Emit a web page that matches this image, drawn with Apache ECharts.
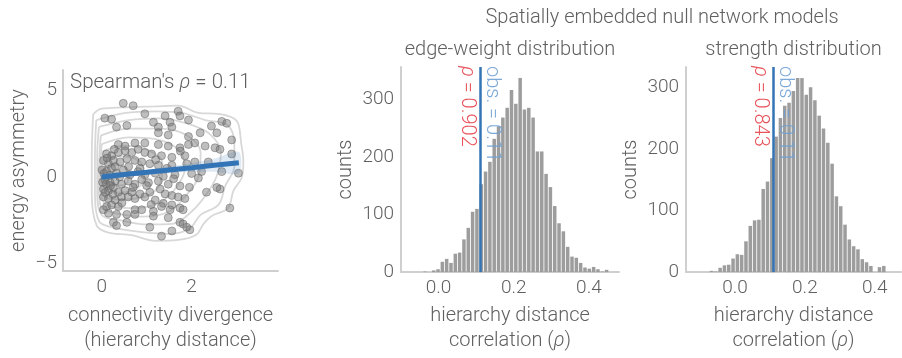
<!DOCTYPE html>
<html>
<head>
<meta charset="utf-8">
<style>
  html, body { margin: 0; padding: 0; background: #fff; }
  #chart { width: 902px; height: 358px; }
</style>
<script src="https://cdn.jsdelivr.net/npm/echarts@6.0.0/dist/echarts.min.js"></script>
</head>
<body>
<div id="chart"></div>
<script>
// --- data ---

// left panel: connectivity divergence vs energy asymmetry
const scatterPts = [
  [0.48, 4.27], [0.70, 4.13], [0.07, 3.41], [0.22, 3.35], [0.33, 2.89], [0.56, 2.98],
  [0.96, 3.66], [1.15, 3.17], [1.26, 2.89], [1.41, 3.54], [1.52, 3.17], [1.56, 2.89],
  [1.70, 3.81], [1.74, 3.54], [1.93, 3.30], [1.26, 2.56], [1.48, 2.43], [1.93, 2.34],
  [2.19, 2.56], [2.44, 2.95], [2.67, 3.22], [2.78, 3.11], [2.56, 2.56], [2.89, 2.15],
  [0.37, 1.88], [0.52, 1.79], [0.74, 1.97], [0.96, 1.97], [1.26, 1.88], [1.48, 1.79],
  [1.74, 1.69], [1.93, 1.88], [2.07, 1.97], [2.30, 1.79], [2.52, 1.69], [2.63, 1.60],
  [0.11, 1.33], [0.22, 1.23], [0.37, 1.42], [0.52, 1.51], [0.67, 1.42], [0.81, 1.60],
  [0.96, 1.42], [1.11, 1.33], [1.33, 1.23], [1.56, 1.14], [1.85, 1.23], [2.07, 0.87],
  [2.37, 0.87], [2.89, 1.33], [0.04, 0.96], [0.15, 0.77], [0.26, 0.96], [0.41, 0.87],
  [0.56, 1.05], [0.74, 0.96], [0.89, 0.87], [1.07, 0.77], [1.26, 0.68], [1.56, 0.68],
  [1.89, 0.77], [2.22, 0.31], [2.67, 0.31], [3.04, 0.22], [0.01, 0.41], [0.11, 0.31],
  [0.22, 0.50], [0.33, 0.22], [0.48, 0.41], [0.63, 0.13], [0.81, 0.31], [0.96, 0.13],
  [1.19, 0.22], [1.37, 0.04], [1.63, 0.13], [2.15, -0.06], [0.07, -0.15], [0.19, -0.33],
  [0.30, -0.24], [0.44, -0.42], [0.59, -0.24], [0.74, -0.42], [0.89, -0.15], [1.04, -0.33],
  [1.26, -0.24], [1.48, -0.42], [1.74, -0.52], [2.33, -0.88], [2.63, -0.70], [0.04, -0.70],
  [0.15, -0.79], [0.26, -0.61], [0.37, -0.88], [0.52, -0.79], [0.67, -0.88], [0.85, -0.98],
  [1.07, -0.88], [1.30, -0.70], [1.41, -0.98], [1.56, -1.07], [1.70, -1.16], [1.85, -1.25],
  [0.04, -1.16], [0.15, -1.25], [0.30, -1.34], [0.44, -1.16], [0.59, -1.16], [0.74, -1.25],
  [0.96, -1.16], [1.19, -1.34], [1.37, -1.53], [1.56, -1.62], [1.74, -1.80], [0.11, -1.71],
  [0.22, -1.62], [0.37, -1.71], [0.74, -1.90], [0.89, -1.90], [1.15, -1.99], [1.33, -1.71],
  [1.52, -1.90], [1.81, -1.90], [2.85, -1.80], [0.04, -1.90], [0.33, -2.17], [0.56, -2.17],
  [0.74, -2.17], [1.15, -2.27], [1.48, -2.36], [1.74, -2.63], [1.81, -2.73], [0.26, -2.63],
  [0.33, -2.82], [0.56, -2.63], [1.07, -2.91], [1.56, -3.13], [1.89, -2.91], [1.96, -3.06],
  [1.33, -3.43], [2.56, -0.61], [0.05, 0.20], [0.10, -0.40], [0.18, 0.10], [0.25, -1.00],
  [0.08, -0.90], [0.30, 0.60], [0.12, 1.10], [0.20, -0.50], [0.40, 0.00], [0.02, -0.30],
  [0.15, -2.10], [0.28, 1.60], [0.45, -1.50], [0.60, 0.60], [0.70, -0.60], [0.85, 0.50],
  [1.00, -0.50], [1.20, 1.00], [1.10, -1.60], [1.45, 0.50], [1.60, -0.10], [1.75, 1.50],
  [2.00, 0.20], [1.95, -0.60]
];

// density contours (outer to inner)
const contour1 = [[-0.19, 3.63], [0.0, 3.96], [0.52, 4.03], [1.19, 4.09], [1.70, 4.14], [2.15, 3.72],
  [2.59, 3.66], [3.0, 3.26], [3.10, 1.97], [3.15, 0.87], [3.11, -0.06], [2.93, -0.79], [2.81, -1.80],
  [2.44, -2.27], [2.26, -2.73], [2.11, -3.33], [1.70, -3.65], [1.19, -3.70], [0.67, -3.37],
  [0.15, -3.22], [-0.11, -2.82], [-0.22, -0.98], [-0.22, 1.23], [-0.19, 3.63]];
const contour2 = [[-0.12, 3.3], [0.5, 3.7], [1.2, 3.8], [1.8, 3.7], [2.3, 3.3], [2.8, 3.0], [2.95, 1.9],
  [2.95, 0.6], [2.75, -0.5], [2.6, -1.6], [2.2, -2.2], [1.95, -3.0], [1.5, -3.3], [0.9, -3.2],
  [0.3, -2.95], [-0.05, -2.6], [-0.15, -1.0], [-0.15, 1.2], [-0.12, 3.3]];
const contour3 = [[-0.06, 2.9], [0.6, 3.3], [1.3, 3.4], [1.9, 3.1], [2.4, 2.5], [2.65, 1.4], [2.55, 0.0],
  [2.3, -1.1], [2.0, -2.0], [1.6, -2.7], [1.0, -2.75], [0.4, -2.5], [0.0, -2.2], [-0.1, -0.8],
  [-0.1, 1.2], [-0.06, 2.9]];
const contour4 = [[-0.02, 2.4], [0.6, 2.8], [1.3, 2.8], [1.9, 2.4], [2.2, 1.4], [2.15, 0.0], [1.9, -1.0],
  [1.5, -2.0], [0.9, -2.3], [0.3, -2.1], [-0.02, -1.7], [-0.07, -0.3], [-0.05, 1.2], [-0.02, 2.4]];
const contour5 = [[0.0, 1.9], [0.6, 2.3], [1.2, 2.2], [1.7, 1.6], [1.85, 0.5], [1.6, -0.8], [1.2, -1.6],
  [0.6, -1.8], [0.1, -1.6], [-0.04, -0.5], [-0.03, 0.8], [0.0, 1.9]];
const contour6 = [[0.02, 1.5], [0.5, 1.8], [1.0, 1.6], [1.35, 0.8], [1.3, -0.4], [0.9, -1.2], [0.4, -1.3],
  [0.04, -1.1], [-0.02, 0.1], [0.02, 1.5]];
const contour7 = [[0.04, 1.0], [0.4, 1.2], [0.85, 0.9], [0.95, 0.0], [0.7, -0.8], [0.3, -0.9],
  [0.05, -0.7], [0.0, 0.2], [0.04, 1.0]];
const contour8 = [[0.06, 0.6], [0.35, 0.7], [0.6, 0.3], [0.55, -0.4], [0.25, -0.5], [0.06, -0.3],
  [0.03, 0.2], [0.06, 0.6]];
const contours = [contour1, contour2, contour3, contour4, contour5, contour6, contour7, contour8];

// regression fit and its confidence band
const regX = [0, 0.5, 1, 1.5, 2, 2.5, 3.05];
const regY = [0, 0.14, 0.27, 0.41, 0.54, 0.68, 0.83];
const bandLower = [-0.18, -0.02, 0.12, 0.22, 0.30, 0.30, 0.22];
const bandUpper = [0.18, 0.30, 0.42, 0.60, 0.80, 1.05, 1.45];

// null model histograms (counts per bin)
const edgeBinStart = -0.036;
const edgeBinWidth = 0.0115;
const edgeCounts = [1, 0, 3, 5, 18, 23, 16, 32, 34, 57, 77, 105, 110, 153, 175, 192, 232, 254, 269,
  286, 317, 293, 338, 283, 286, 269, 210, 210, 171, 148, 115, 85, 71, 44, 27, 25, 16, 8, 6, 9, 5, 1, 4];

const strengthBinStart = -0.067;
const strengthBinWidth = 0.01232;
const strengthCounts = [2, 1, 7, 11, 12, 22, 29, 28, 50, 75, 84, 85, 135, 147, 185, 220, 250, 270,
  275, 294, 315, 315, 288, 300, 279, 254, 233, 210, 176, 123, 107, 77, 53, 42, 37, 21, 16, 10, 0, 8, 10];

const obsRho = 0.11;
const edgeP = '0.902';
const strengthP = '0.843';

const xTicksLeft = [0, 2];
const yTicksLeft = [-5, 0, 5];
const xTicksHist = [0, 0.2, 0.4];
const yTicksHist = [0, 100, 200, 300];

// --- styling ---
const FONT = 'Roboto';
const FS = 20;      // titles, axis names, annotations
const FS_TICK = 19; // tick labels
const TXT = '#606060';
const AXIS_COLOR = '#cfcfcf';
const BLUE = '#3274b5';

function binned(start, width, counts) {
  return counts.map((c, i) => [start + i * width, c]);
}

function axis(extra) {
  return Object.assign({
    type: 'value',
    axisLine: { show: true, onZero: false, lineStyle: { color: AXIS_COLOR, width: 2 } },
    axisTick: { show: false },
    splitLine: { show: false },
    nameLocation: 'middle',
    nameTextStyle: {
      color: TXT, fontSize: FS, fontFamily: FONT, fontWeight: 300, lineHeight: 25,
      rich: { i: { fontStyle: 'italic', fontSize: FS, fontFamily: FONT, fontWeight: 300, color: TXT } }
    }
  }, extra);
}

function label(margin, custom, fmt) {
  return {
    color: TXT, fontSize: FS_TICK, fontFamily: FONT, fontWeight: 300,
    margin: margin, customValues: custom, formatter: fmt
  };
}

const minusFmt = v => (v < 0 ? '\u2212' + Math.abs(v) : String(v));

const chart = echarts.init(document.getElementById('chart'));

const series = [];
contours.forEach(c => {
  series.push({
    type: 'line', xAxisIndex: 0, yAxisIndex: 0, data: c, smooth: 0.35,
    symbol: 'none', silent: true, z: 1,
    lineStyle: { color: '#d8d8d8', width: 1.8 }
  });
});
series.push({
  type: 'scatter', xAxisIndex: 0, yAxisIndex: 0, data: scatterPts, symbolSize: 8, z: 2,
  itemStyle: { color: 'rgba(120,120,120,0.6)', borderColor: 'rgba(95,95,95,0.6)', borderWidth: 1 }
});
series.push({
  type: 'custom', xAxisIndex: 0, yAxisIndex: 0, data: [[0, 0]], z: 3, silent: true,
  renderItem: (params, api) => {
    const pts = [];
    regX.forEach((x, i) => pts.push(api.coord([x, bandUpper[i]])));
    for (let i = regX.length - 1; i >= 0; i--) pts.push(api.coord([regX[i], bandLower[i]]));
    return { type: 'polygon', shape: { points: pts, smooth: 0.3 }, style: { fill: 'rgba(50,116,181,0.16)' } };
  }
});
series.push({
  type: 'line', xAxisIndex: 0, yAxisIndex: 0, data: regX.map((x, i) => [x, regY[i]]),
  symbol: 'none', z: 4, lineStyle: { color: BLUE, width: 5 }
});

function histSeries(idx, data) {
  return {
    type: 'bar', xAxisIndex: idx, yAxisIndex: idx, data: data, barWidth: 3.5, z: 2,
    itemStyle: { color: '#9d9d9d' },
    markLine: {
      silent: true, symbol: 'none', label: { show: false }, animation: false,
      lineStyle: { color: BLUE, width: 2.5, type: 'solid' },
      data: [{ xAxis: obsRho }]
    }
  };
}
series.push(histSeries(1, binned(edgeBinStart, edgeBinWidth, edgeCounts)));
series.push(histSeries(2, binned(strengthBinStart, strengthBinWidth, strengthCounts)));

chart.setOption({
  animation: false,
  backgroundColor: '#fff',
  grid: [
    { left: 63, top: 70, width: 215, height: 211 },
    { left: 401, top: 67, width: 218, height: 216 },
    { left: 686, top: 67, width: 215, height: 216 }
  ],
  xAxis: [
    axis({ gridIndex: 0, min: -0.86, max: 3.92, name: 'connectivity divergence\n(hierarchy distance)', nameGap: 32,
      axisLabel: label(7, xTicksLeft, v => String(v)) }),
    axis({ gridIndex: 1, min: -0.1, max: 0.48, name: 'hierarchy distance\ncorrelation ({i|ρ})', nameGap: 29,
      axisLabel: label(7, xTicksHist, v => v.toFixed(1)) }),
    axis({ gridIndex: 2, min: -0.14, max: 0.475, name: 'hierarchy distance\ncorrelation ({i|ρ})', nameGap: 29,
      axisLabel: label(7, xTicksHist, v => v.toFixed(1)) })
  ],
  yAxis: [
    axis({ gridIndex: 0, min: -5.45, max: 6.2, name: 'energy asymmetry', nameGap: 31,
      axisLabel: label(6, yTicksLeft, minusFmt) }),
    axis({ gridIndex: 1, min: 0, max: 357, name: 'counts', nameGap: 41,
      axisLabel: label(7, yTicksHist, v => String(v)) }),
    axis({ gridIndex: 2, min: 0, max: 333, name: 'counts', nameGap: 41,
      axisLabel: label(7, yTicksHist, v => String(v)) })
  ],
  series: series
});

// annotations placed from the axes' own scales
function txt(x, y, text, opts) {
  return Object.assign({
    type: 'text', x: x, y: y, silent: true, z: 10,
    style: Object.assign({
      text: text, fill: TXT, fontSize: FS, fontFamily: FONT, fontWeight: 300,
      align: 'center', verticalAlign: 'middle',
      rich: { i: { fontStyle: 'italic', fontSize: FS, fontFamily: FONT, fontWeight: 300 } }
    }, opts || {})
  });
}

const graphics = [];
const leftTop = chart.convertToPixel({ gridIndex: 0 }, [-0.86, 6.2]);
graphics.push(txt(leftTop[0] + 7, leftTop[1] + 13, "Spearman's {i|ρ} = 0.11", { align: 'left', fontSize: 20.5 }));

[[1, edgeP, 357], [2, strengthP, 333]].forEach(([g, p, ymax]) => {
  const top = chart.convertToPixel({ gridIndex: g }, [obsRho, ymax]);
  const red = txt(top[0] - 13, top[1] - 1, '{i|ρ} = ' + p,
    { align: 'left', fill: '#e9535b', rich: { i: { fontStyle: 'italic', fontSize: FS, fontFamily: FONT, fontWeight: 300, fill: '#e9535b' } } });
  red.rotation = -Math.PI / 2;
  const blue = txt(top[0] + 12, top[1] - 1, 'obs. = ' + obsRho, { align: 'left', fill: 'rgba(110,160,212,0.9)' });
  blue.rotation = -Math.PI / 2;
  graphics.push(red, blue);
});

const mid = (chart.convertToPixel({ xAxisIndex: 1 }, -0.1) + chart.convertToPixel({ xAxisIndex: 1 }, 0.48)) / 2;
const rgt = (chart.convertToPixel({ xAxisIndex: 2 }, -0.14) + chart.convertToPixel({ xAxisIndex: 2 }, 0.475)) / 2;
graphics.push(txt(662, 18, 'Spatially embedded null network models'));
graphics.push(txt(mid, 50, 'edge-weight distribution'));
graphics.push(txt(rgt, 50, 'strength distribution'));

chart.setOption({ graphic: graphics });
</script>
</body>
</html>
